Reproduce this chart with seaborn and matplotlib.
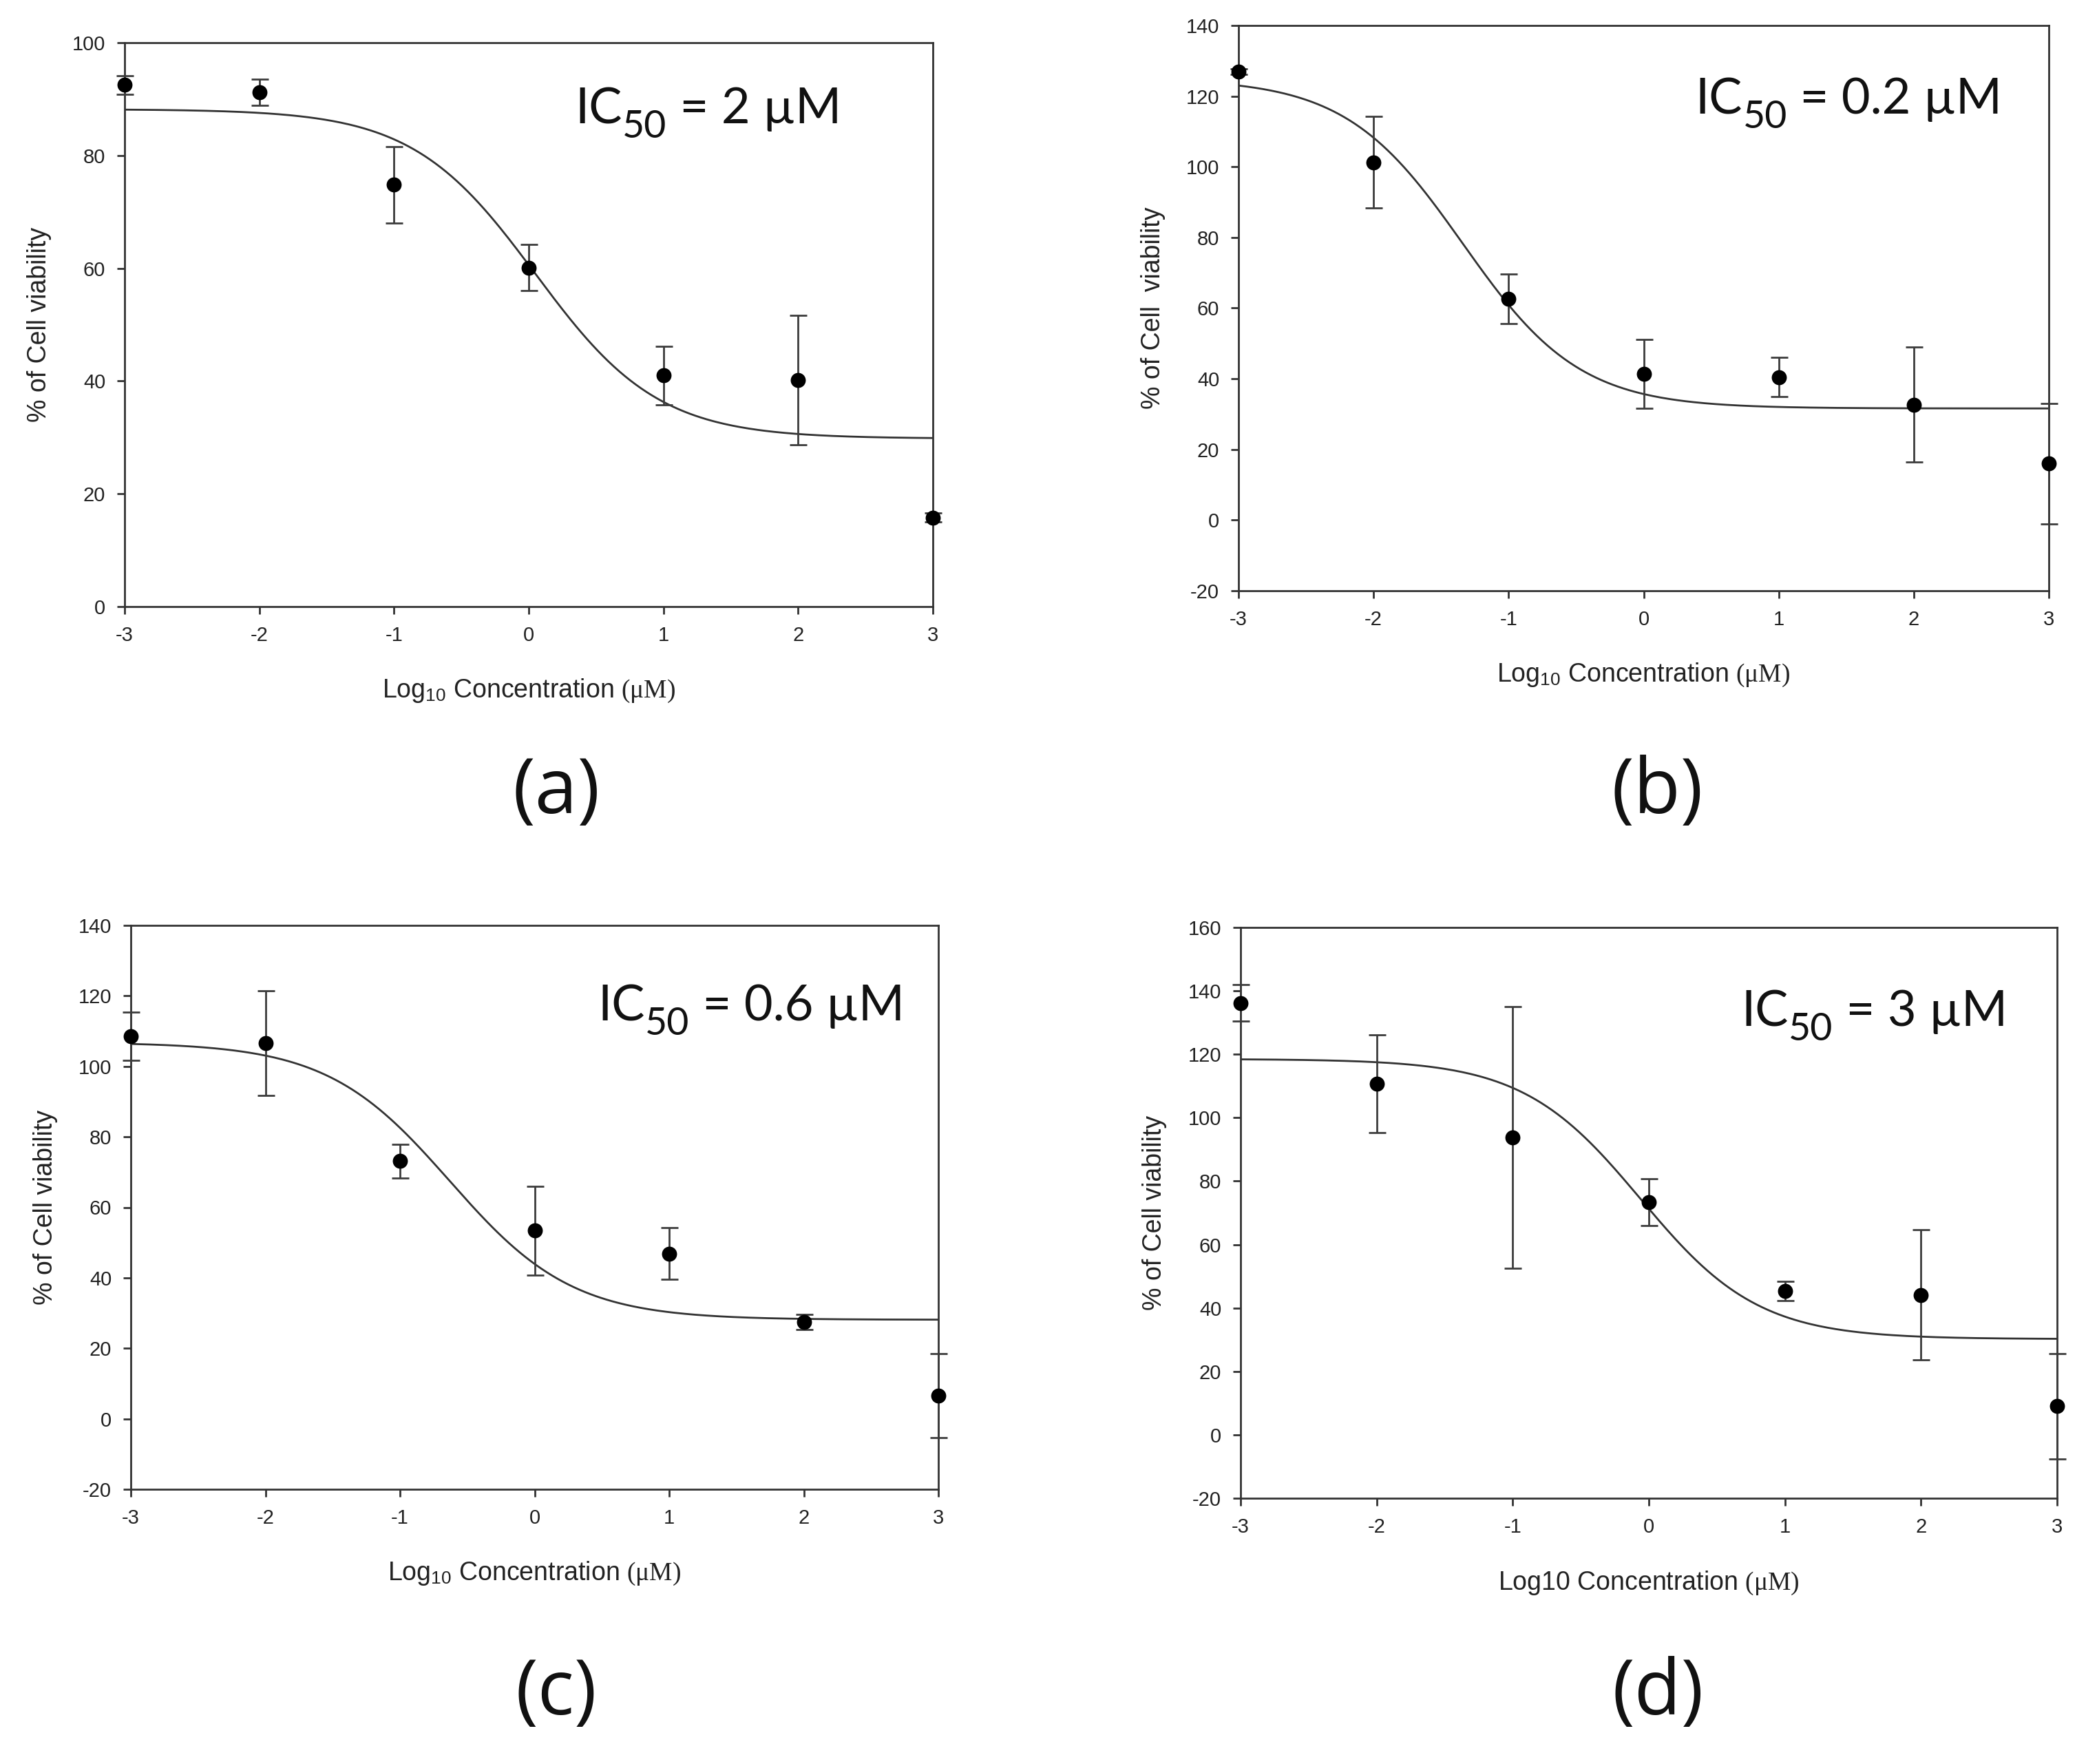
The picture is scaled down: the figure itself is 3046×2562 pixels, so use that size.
import numpy as np
import matplotlib
matplotlib.use("Agg")
import matplotlib.pyplot as plt
import seaborn as sns

# log10 of the drug concentration (uM), same for every panel
log_conc = [-3, -2, -1, 0, 1, 2, 3]

# mean % viability and error bar half-length
viab_a = [92.5, 91.2, 74.8, 60.1, 41.0, 40.2, 15.8]
err_a = [1.6, 2.3, 6.8, 4.1, 5.2, 11.5, 0.8]

viab_b = [126.9, 101.3, 62.6, 41.4, 40.5, 32.7, 16.0]
err_b = [0.8, 13.0, 7.0, 9.8, 5.5, 16.3, 17.0]

viab_c = [108.5, 106.6, 73.1, 53.4, 46.9, 27.5, 6.5]
err_c = [6.8, 14.9, 4.8, 12.6, 7.3, 2.2, 11.9]

viab_d = [136.2, 110.7, 93.8, 73.3, 45.4, 44.1, 9.0]
err_d = [5.7, 15.5, 41.3, 7.4, 3.0, 20.5, 16.7]

# fitted 4-parameter logistic curves: top, bottom, logIC50, hill slope
fit_a = (88.2, 29.8, 0.05, 0.95)
fit_b = (125.0, 31.6, -1.34, 1.0)
fit_c = (106.8, 28.1, -0.63, 0.95)
fit_d = (118.5, 30.2, -0.06, 1.0)

ic50_labels = ["2", "0.2", "0.6", "3"]
panel_letters = ["(a)", "(b)", "(c)", "(d)"]
ylims = [(0, 100), (-20, 140), (-20, 140), (-20, 160)]
ylabels = ["% of Cell viability", "% of Cell  viability",
           "% of Cell viability", "% of Cell viability"]
xlabels = [r"Log$_{\mathsf{10}}$ Concentration $\mathrm{(\mu M)}$"] * 3 + \
          [r"Log10 Concentration $\mathrm{(\mu M)}$"]

sns.set_theme(style="ticks")
plt.rcParams["font.family"] = ["Liberation Sans", "DejaVu Sans"]
plt.rcParams["axes.unicode_minus"] = False
plt.rcParams["mathtext.fontset"] = "custom"
plt.rcParams["mathtext.rm"] = "Liberation Serif"
plt.rcParams["mathtext.it"] = "Liberation Serif:italic"
plt.rcParams["mathtext.bf"] = "Liberation Serif:bold"
plt.rcParams["mathtext.sf"] = "Liberation Sans"

W, H = 3046, 2562
fig = plt.figure(figsize=(W / 200, H / 200), dpi=200)

# axes boxes in pixels: left, top, right, bottom
boxes = [(181, 62, 1355, 881), (1799, 37, 2976, 858),
         (190, 1344, 1363, 2163), (1802, 1347, 2988, 2176)]
ic50_pos = [(0.557, 0.857), (0.564, 0.844), (0.578, 0.8315), (0.613, 0.8275)]
letter_pos = [(808, 1152), (2407, 1152), (808, 2461), (2408, 2461)]

series = [(viab_a, err_a, fit_a), (viab_b, err_b, fit_b),
          (viab_c, err_c, fit_c), (viab_d, err_d, fit_d)]

line_col = "#333333"
ic_font = ["Lato", "DejaVu Sans"]

for i, (viab, err, fit) in enumerate(series):
    l, t, r, b = boxes[i]
    ax = fig.add_axes([l / W, 1 - b / H, (r - l) / W, (b - t) / H])

    top, bottom, logic50, hill = fit
    xs = np.linspace(-3, 3, 300)
    ys = bottom + (top - bottom) / (1 + 10 ** (hill * (xs - logic50)))
    sns.lineplot(x=xs, y=ys, ax=ax, color=line_col, linewidth=1.0, zorder=2)

    eb = ax.errorbar(log_conc, viab, yerr=err, fmt="none", ecolor="#3c3c3c",
                     elinewidth=1.0, capsize=4.5, capthick=1.0, zorder=3)
    for art in eb.get_children():
        art.set_clip_on(False)

    sns.scatterplot(x=log_conc, y=viab, ax=ax, color="black", s=62,
                    linewidth=0, zorder=4, clip_on=False, legend=False)

    ax.set_xlim(-3, 3)
    ax.set_ylim(*ylims[i])
    ax.set_xticks(log_conc)
    ax.set_yticks(np.arange(ylims[i][0], ylims[i][1] + 1, 20))
    for sp in ax.spines.values():
        sp.set_visible(True)
        sp.set_linewidth(1.0)
        sp.set_color(line_col)
    ax.tick_params(direction="out", length=4, width=1.0, color=line_col,
                   labelsize=10.5, pad=6, top=False, right=False,
                   labelcolor="#222222")

    ax.set_xlabel(xlabels[i], fontsize=13.5, color="#222222")
    ax.set_ylabel(ylabels[i], fontsize=13.5, color="#222222")
    ax.xaxis.set_label_coords(0.5, -0.125)
    ax.yaxis.set_label_coords(-0.09, 0.5)

    # IC50 annotation: "IC", a lowered subscript "50", then the value
    x0, y0 = ic50_pos[i]
    t_ic = ax.text(x0, y0, "IC", transform=ax.transAxes, ha="left",
                   va="baseline", fontsize=26, family=ic_font, color="#111111")
    t_sub = ax.annotate("50", xy=(1, y0), xycoords=(t_ic, "axes fraction"),
                        xytext=(0.3, -7.5), textcoords="offset points",
                        ha="left", va="baseline", fontsize=20,
                        family=ic_font, color="#111111")
    ax.annotate(" = " + ic50_labels[i] + " µM", xy=(1, y0),
                xycoords=(t_sub, "axes fraction"), ha="left", va="baseline",
                fontsize=26, family=ic_font, color="#111111")

    fig.text(letter_pos[i][0] / W, 1 - letter_pos[i][1] / H, panel_letters[i],
             ha="center", va="center", fontsize=40,
             family=["Open Sans", "DejaVu Sans"], color="#111111")

fig.savefig("out.png", dpi=200)
